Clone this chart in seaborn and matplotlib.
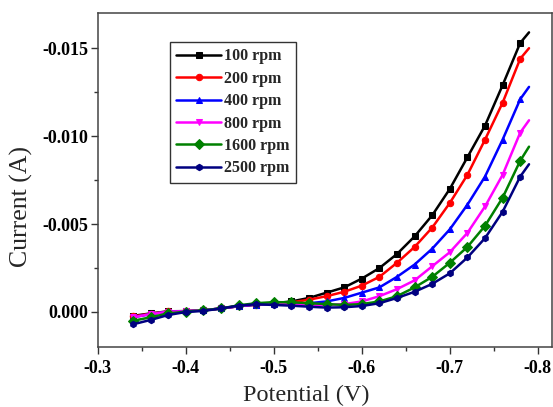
import numpy as np
import pandas as pd
import matplotlib
matplotlib.use("Agg")
import matplotlib.pyplot as plt
import seaborn as sns
from matplotlib.ticker import MultipleLocator, FormatStrFormatter

# potential (V), markers every 0.02 V, last point is only line end
potential = [-0.34, -0.36, -0.38, -0.40, -0.42, -0.44, -0.46, -0.48, -0.50, -0.52,
             -0.54, -0.56, -0.58, -0.60, -0.62, -0.64, -0.66, -0.68, -0.70, -0.72,
             -0.74, -0.76, -0.78, -0.79]

rpm_100 = [0.00022, 0.00008, -0.00004, -0.00005, -0.0001, -0.0002, -0.00033, -0.00042,
           -0.0005, -0.0006, -0.0008, -0.0011, -0.0014, -0.0019, -0.0025, -0.0033,
           -0.0043, -0.0055, -0.0070, -0.0088, -0.0106, -0.0129, -0.0153, -0.0159]
rpm_200 = [0.00025, 0.0001, -0.00003, -0.00005, -0.0001, -0.0002, -0.00033, -0.00042,
           -0.00048, -0.00055, -0.0007, -0.0009, -0.00115, -0.0015, -0.0020, -0.0028,
           -0.0037, -0.0048, -0.0062, -0.0078, -0.0098, -0.0119, -0.0144, -0.0150]
rpm_400 = [0.0003, 0.00012, -0.00002, -0.00004, -0.0001, -0.0002, -0.00033, -0.00042,
           -0.00046, -0.00048, -0.0005, -0.0006, -0.0008, -0.0011, -0.0014, -0.0020,
           -0.0027, -0.0036, -0.0047, -0.0061, -0.0077, -0.0098, -0.0121, -0.0128]
rpm_800 = [0.0003, 0.00012, -0.00002, -0.00004, -0.0001, -0.0002, -0.00034, -0.00044,
           -0.00046, -0.00044, -0.0004, -0.0004, -0.00045, -0.0006, -0.0009, -0.0013,
           -0.0018, -0.0026, -0.0034, -0.0045, -0.0060, -0.0078, -0.0102, -0.0109]
rpm_1600 = [0.0005, 0.0003, 0.00008, -0.00002, -0.0001, -0.0002, -0.00038, -0.0005,
            -0.00056, -0.00055, -0.0005, -0.00045, -0.0004, -0.00045, -0.0006, -0.0009,
            -0.0014, -0.0020, -0.0028, -0.0037, -0.0049, -0.0065, -0.0086, -0.0094]
rpm_2500 = [0.0007, 0.00045, 0.00017, 0.0, -0.00006, -0.0002, -0.00036, -0.00044,
            -0.0004, -0.00036, -0.0003, -0.00025, -0.00027, -0.00034, -0.0005, -0.0008,
            -0.00115, -0.0016, -0.0022, -0.0031, -0.0042, -0.0057, -0.0077, -0.0084]

labels = ["100 rpm", "200 rpm", "400 rpm", "800 rpm", "1600 rpm", "2500 rpm"]
series = [rpm_100, rpm_200, rpm_400, rpm_800, rpm_1600, rpm_2500]
colors = ["#000000", "#FF0000", "#0000FF", "#FF00FF", "#008000", "#000080"]
markers = ["s", "o", "^", "v", "D", "h"]

sns.set_style("ticks")
plt.rcParams["font.family"] = ["Liberation Serif", "DejaVu Serif"]
plt.rcParams["axes.unicode_minus"] = False

fig = plt.figure(figsize=(5.53, 4.07), dpi=100)
ax = fig.add_axes([0.177, 0.147, 0.821, 0.821])

for lab, ys, c, m in zip(labels, series, colors, markers):
    df = pd.DataFrame({"Potential": potential, "Current": ys})
    sns.lineplot(data=df, x="Potential", y="Current", ax=ax, color=c, marker=m,
                 markersize=4.6, markeredgecolor=c, linewidth=1.8, sort=False,
                 markevery=list(range(len(potential) - 1)), label=lab)

ax.set_xlim(-0.3, -0.816)
ax.set_ylim(0.002, -0.017)
ax.xaxis.set_major_locator(MultipleLocator(0.1))
ax.xaxis.set_minor_locator(MultipleLocator(0.05))
ax.yaxis.set_major_locator(MultipleLocator(0.005))
ax.yaxis.set_minor_locator(MultipleLocator(0.0025))
ax.xaxis.set_major_formatter(FormatStrFormatter("%.1f"))
ax.yaxis.set_major_formatter(FormatStrFormatter("%.3f"))

ax.tick_params(which="major", direction="out", length=5, width=1, colors="#333333",
               labelcolor="black", labelsize=13)
ax.tick_params(axis="x", which="major", pad=4)
ax.tick_params(axis="y", which="major", pad=2)
ax.tick_params(which="minor", direction="out", length=3, width=1, colors="#333333")
for lbl in ax.get_xticklabels() + ax.get_yticklabels():
    lbl.set_fontweight("bold")
for sp in ax.spines.values():
    sp.set_color("#444444")
    sp.set_linewidth(1.1)

ax.set_xlabel("Potential (V)", fontsize=17.5, va="center")
ax.set_ylabel("Current (A)", fontsize=18.5, va="center")
ax.xaxis.set_label_coords(0.46, -0.143)
ax.yaxis.set_label_coords(-0.168, 0.42)

leg = ax.legend(loc="upper left", bbox_to_anchor=(0.159, 0.913), borderaxespad=0,
                frameon=True, fancybox=False, shadow=False, handlelength=2.8,
                handletextpad=0.2, labelspacing=0.4, borderpad=0.4,
                prop={"weight": "bold", "size": 11.5})
leg.get_frame().set_edgecolor("#333333")
leg.get_frame().set_linewidth(1.0)
leg.get_frame().set_alpha(1)

fig.savefig("out.png", dpi=100)
